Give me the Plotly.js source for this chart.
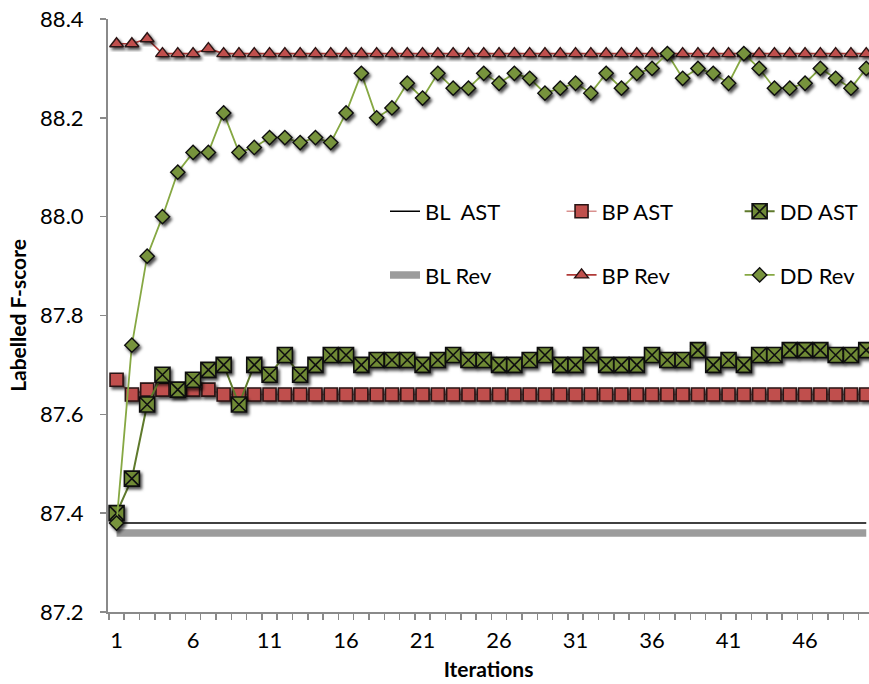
<!DOCTYPE html>
<html>
<head>
<meta charset="utf-8">
<script src="https://cdn.plot.ly/plotly-3.0.1.min.js"></script>
<style>
  html, body { margin: 0; padding: 0; background: #fff; }
  #chart { width: 869px; height: 684px; }
</style>
</head>
<body>
<div id="chart"></div>
<script>
// ---- data ----
const iterations = Array.from({length: 50}, (_, i) => i + 1);
const xTickVals = [1, 6, 11, 16, 21, 26, 31, 36, 41, 46];
const xTickText = ["1", "6", "11", "16", "21", "26", "31", "36", "41", "46"];
const yTickVals = [87.2, 87.4, 87.6, 87.8, 88.0, 88.2, 88.4];
const yTickText = ["87.2", "87.4", "87.6", "87.8", "88.0", "88.2", "88.4"];

const blAst = [87.38,87.38,87.38,87.38,87.38,87.38,87.38,87.38,87.38,87.38,
               87.38,87.38,87.38,87.38,87.38,87.38,87.38,87.38,87.38,87.38,
               87.38,87.38,87.38,87.38,87.38,87.38,87.38,87.38,87.38,87.38,
               87.38,87.38,87.38,87.38,87.38,87.38,87.38,87.38,87.38,87.38,
               87.38,87.38,87.38,87.38,87.38,87.38,87.38,87.38,87.38,87.38];
const blRev = [87.36,87.36,87.36,87.36,87.36,87.36,87.36,87.36,87.36,87.36,
               87.36,87.36,87.36,87.36,87.36,87.36,87.36,87.36,87.36,87.36,
               87.36,87.36,87.36,87.36,87.36,87.36,87.36,87.36,87.36,87.36,
               87.36,87.36,87.36,87.36,87.36,87.36,87.36,87.36,87.36,87.36,
               87.36,87.36,87.36,87.36,87.36,87.36,87.36,87.36,87.36,87.36];
const bpAst = [87.67,87.64,87.65,87.65,87.65,87.65,87.65,87.64,87.64,87.64,
               87.64,87.64,87.64,87.64,87.64,87.64,87.64,87.64,87.64,87.64,
               87.64,87.64,87.64,87.64,87.64,87.64,87.64,87.64,87.64,87.64,
               87.64,87.64,87.64,87.64,87.64,87.64,87.64,87.64,87.64,87.64,
               87.64,87.64,87.64,87.64,87.64,87.64,87.64,87.64,87.64,87.64];
const bpRev = [88.35,88.35,88.36,88.33,88.33,88.33,88.34,88.33,88.33,88.33,
               88.33,88.33,88.33,88.33,88.33,88.33,88.33,88.33,88.33,88.33,
               88.33,88.33,88.33,88.33,88.33,88.33,88.33,88.33,88.33,88.33,
               88.33,88.33,88.33,88.33,88.33,88.33,88.33,88.33,88.33,88.33,
               88.33,88.33,88.33,88.33,88.33,88.33,88.33,88.33,88.33,88.33];
const ddAst = [87.40,87.47,87.62,87.68,87.65,87.67,87.69,87.70,87.62,87.70,
               87.68,87.72,87.68,87.70,87.72,87.72,87.70,87.71,87.71,87.71,
               87.70,87.71,87.72,87.71,87.71,87.70,87.70,87.71,87.72,87.70,
               87.70,87.72,87.70,87.70,87.70,87.72,87.71,87.71,87.73,87.70,
               87.71,87.70,87.72,87.72,87.73,87.73,87.73,87.72,87.72,87.73];
const ddRev = [87.38,87.74,87.92,88.00,88.09,88.13,88.13,88.21,88.13,88.14,
               88.16,88.16,88.15,88.16,88.15,88.21,88.29,88.20,88.22,88.27,
               88.24,88.29,88.26,88.26,88.29,88.27,88.29,88.28,88.25,88.26,
               88.27,88.25,88.29,88.26,88.29,88.30,88.33,88.28,88.30,88.29,
               88.27,88.33,88.30,88.26,88.26,88.27,88.30,88.28,88.26,88.30];

const FONT = 'Lato, "Open Sans", sans-serif';
const AXIS = '#8a8a8a';

const traces = [
  {name: 'BL  AST', x: iterations, y: blAst, mode: 'lines',
   line: {color: '#000000', width: 1.6}, legend: 'legend', legendgroup: 'g1'},
  {name: 'BL Rev', x: iterations, y: blRev, mode: 'lines',
   line: {color: '#9c9c9c', width: 7.5}, legend: 'legend', legendgroup: 'g2'},
  {name: 'BP AST', x: iterations, y: bpAst, mode: 'lines+markers',
   line: {color: '#d9918f', width: 1.6},
   marker: {symbol: 'square', size: 13, color: '#c0504d', line: {color: '#2a1414', width: 1.6}},
   legend: 'legend2', legendgroup: 'g3'},
  {name: 'BP Rev', x: iterations, y: bpRev, mode: 'lines+markers',
   line: {color: '#b03a37', width: 1.6},
   marker: {symbol: 'triangle-up', size: 12, color: '#c0504d', line: {color: '#2a1414', width: 1.4}},
   legend: 'legend2', legendgroup: 'g4'},
  {name: 'DD AST', x: iterations, y: ddAst, mode: 'lines+markers',
   line: {color: '#5f7a2c', width: 2},
   marker: {symbol: 'square-x', size: 15, color: '#6f8a36', line: {color: '#111111', width: 1.6}},
   legend: 'legend3', legendgroup: 'g5'},
  {name: 'DD Rev', x: iterations, y: ddRev, mode: 'lines+markers',
   line: {color: '#86a843', width: 1.8},
   marker: {symbol: 'diamond', size: 11, color: '#77933c', line: {color: '#111111', width: 1.4}},
   legend: 'legend3', legendgroup: 'g6'}
];

const legendBase = {
  xref: 'paper', yref: 'paper', xanchor: 'left', yanchor: 'middle',
  y: 0.6214, orientation: 'v', bgcolor: 'rgba(0,0,0,0)', borderwidth: 0,
  tracegroupgap: 32, font: {family: FONT, size: 22, color: '#000'}
};

const layout = {
  width: 869, height: 684,
  margin: {l: 108, r: 0, t: 19, b: 72, autoexpand: false},
  paper_bgcolor: '#fff', plot_bgcolor: '#fff',
  font: {family: FONT, size: 22, color: '#000'},
  showlegend: true,
  legend: Object.assign({}, legendBase, {x: 0.364}),
  legend2: Object.assign({}, legendBase, {x: 0.596}),
  legend3: Object.assign({}, legendBase, {x: 0.83}),
  xaxis: {
    range: [0.44, 50.18], showgrid: false, zeroline: false, automargin: false,
    showline: true, linecolor: AXIS, linewidth: 2,
    tickmode: 'array', tickvals: xTickVals, ticktext: xTickText,
    ticks: '', ticklabelstandoff: 8,
    minor: {ticks: 'outside', tick0: 0.5, dtick: 1, ticklen: 6, tickcolor: AXIS, tickwidth: 1.5, showgrid: false},
    tickfont: {family: FONT, size: 22, color: '#000'},
    title: {text: 'Iterations', font: {family: FONT, size: 21, color: '#000', weight: 'bold'}, standoff: 10}
  },
  yaxis: {
    range: [87.2, 88.4], showgrid: false, zeroline: false, automargin: false,
    showline: true, linecolor: AXIS, linewidth: 2,
    tickmode: 'array', tickvals: yTickVals, ticktext: yTickText,
    ticks: 'outside', ticklen: 6, tickcolor: AXIS, tickwidth: 1.5,
    ticklabelstandoff: 12,
    tickfont: {family: FONT, size: 22, color: '#000'},
    title: {text: 'Labelled F-score', font: {family: FONT, size: 21, color: '#000', weight: 'bold'}, standoff: 8}
  }
};

function addShadows() {
  const NS = 'http://www.w3.org/2000/svg';
  const svg = document.querySelector('#chart svg.main-svg');
  if (!svg) return;
  const defs = document.createElementNS(NS, 'defs');
  const filter = document.createElementNS(NS, 'filter');
  filter.setAttribute('id', 'mkshadow');
  filter.setAttribute('x', '-50%'); filter.setAttribute('y', '-50%');
  filter.setAttribute('width', '200%'); filter.setAttribute('height', '200%');
  const ds = document.createElementNS(NS, 'feDropShadow');
  ds.setAttribute('dx', '2'); ds.setAttribute('dy', '2.5');
  ds.setAttribute('stdDeviation', '1.6');
  ds.setAttribute('flood-color', '#000'); ds.setAttribute('flood-opacity', '0.7');
  filter.appendChild(ds);
  defs.appendChild(filter);
  svg.insertBefore(defs, svg.firstChild);
  document.querySelectorAll('#chart .scatterlayer .trace .points path').forEach(function (p) {
    p.setAttribute('filter', 'url(#mkshadow)');
  });
}

Plotly.newPlot('chart', traces, layout, {displayModeBar: false, staticPlot: true}).then(addShadows);
</script>
</body>
</html>
